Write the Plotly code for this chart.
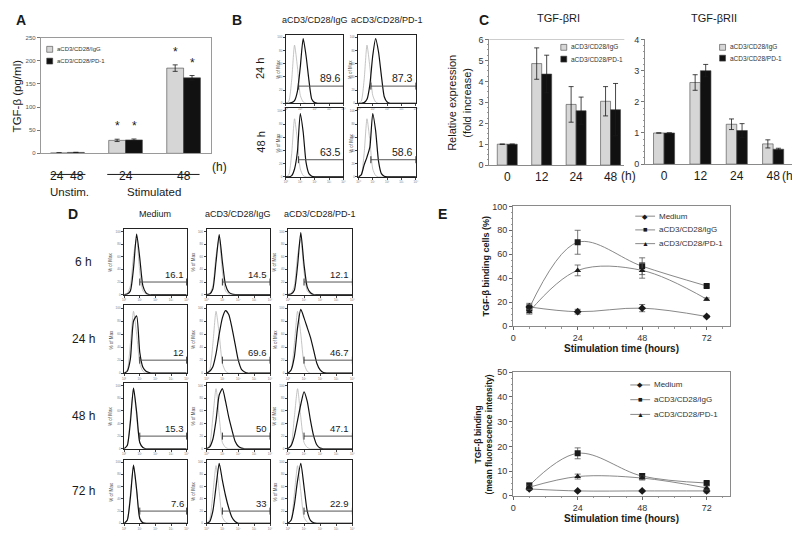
import plotly.graph_objects as go

# page body keeps the browser's default 8px margin, so the figure is sized to
# fill the 800x547 window exactly from that offset
WIN_W, WIN_H, OFF = 800, 547, 8
W, H = WIN_W - OFF, WIN_H - OFF
FONT = "Liberation Sans, Arial, sans-serif"
INK = "#1a1a1a"
LIGHT = "#d6d6d6"
DARK = "#111111"

# ---------------- data ----------------
SERIES = ["aCD3/CD28/IgG", "aCD3/CD28/PD-1"]

# Panel A  (TGF-beta pg/ml)
A_GROUPS = ["Unstim.", "Stim-24", "Stim-48"]
A_IGG = [1, 28, 184]
A_IGG_ERR = [0.3, 2.5, 7]
A_PD1 = [2, 29, 163]
A_PD1_ERR = [0.3, 2, 5]
A_STAR = [False, True, True]
A_YTICKS = [0, 50, 100, 150, 200, 250]
A_UNSTIM_HOURS = ["24", "48"]
A_STIM_HOURS = ["24", "48"]

# Panel B  (flow histograms, x in decades)
HIST_X = [0.0, 0.2, 0.4, 0.6, 0.8, 1.0, 1.2, 1.4, 1.6, 1.8, 2.0,
          2.2, 2.4, 2.6, 2.8, 3.0, 3.2, 3.4, 3.6, 3.8, 4.0]
B_IGG_24 = [0, 0, 1, 4, 18, 55, 98, 72, 35, 6, 1, 0, 0, 0, 0, 0, 0, 0, 0, 0, 0]
B_IGG_48 = [0, 0, 2, 12, 38, 96, 68, 22, 5, 1, 0, 0, 0, 0, 0, 0, 0, 0, 0, 0, 0]
B_PD1_24 = [0, 0, 1, 6, 28, 72, 98, 78, 42, 10, 2, 0, 0, 0, 0, 0, 0, 0, 0, 0, 0]
B_PD1_48 = [0, 3, 18, 30, 45, 96, 70, 24, 5, 1, 0, 0, 0, 0, 0, 0, 0, 0, 0, 0, 0]
B_CTL = [0, 3, 35, 88, 55, 12, 2, 0, 0, 0, 0, 0, 0, 0, 0, 0, 0, 0, 0, 0, 0]
B_ROWS = ["24 h", "48 h"]
B_PCT = [["89.6", "87.3"], ["63.5", "58.6"]]
B_GATE = 0.87

# Panel C  (relative expression, fold increase)
C_CATS = ["0", "12", "24", "48"]
RI_IGG = [1, 4.85, 2.9, 3.05]
RI_IGG_ERR = [0, 0.75, 0.85, 0.7]
RI_PD1 = [1, 4.35, 2.6, 2.65]
RI_PD1_ERR = [0, 0.9, 0.65, 1.25]
RI_STAR = [False, True, True, True]
RII_IGG = [1, 2.62, 1.28, 0.65]
RII_IGG_ERR = [0, 0.25, 0.17, 0.13]
RII_PD1 = [1, 3.0, 1.08, 0.48]
RII_PD1_ERR = [0, 0.2, 0.22, 0.03]
RII_STAR = [False, True, False, False]

# Panel D  (flow histograms)
D_COLS = ["Medium", "aCD3/CD28/IgG", "aCD3/CD28/PD-1"]
D_ROWS = ["6 h", "24 h", "48 h", "72 h"]
D_MED_6 = [0, 1, 6, 42, 96, 58, 14, 3, 0, 0, 0, 0, 0, 0, 0, 0, 0, 0, 0, 0, 0]
D_IGG_6 = [0, 1, 9, 52, 95, 52, 15, 4, 1, 0, 0, 0, 0, 0, 0, 0, 0, 0, 0, 0, 0]
D_PD1_6 = [0, 1, 7, 46, 98, 48, 12, 3, 0, 0, 0, 0, 0, 0, 0, 0, 0, 0, 0, 0, 0]
D_CTL_6 = [0, 2, 14, 62, 88, 36, 6, 1, 0, 0, 0, 0, 0, 0, 0, 0, 0, 0, 0, 0, 0]
D_MED_24 = [0, 3, 22, 80, 88, 32, 9, 3, 1, 0, 0, 0, 0, 0, 0, 0, 0, 0, 0, 0, 0]
D_IGG_24 = [0, 3, 10, 30, 60, 85, 96, 90, 70, 45, 20, 6, 2, 0, 0, 0, 0, 0, 0, 0, 0]
D_PD1_24 = [0, 5, 25, 70, 98, 85, 70, 55, 35, 15, 5, 1, 0, 0, 0, 0, 0, 0, 0, 0, 0]
D_CTL_24 = [0, 5, 45, 95, 60, 15, 3, 0, 0, 0, 0, 0, 0, 0, 0, 0, 0, 0, 0, 0, 0]
D_MED_48 = [0, 5, 42, 96, 58, 10, 2, 0, 0, 0, 0, 0, 0, 0, 0, 0, 0, 0, 0, 0, 0]
D_IGG_48 = [0, 3, 15, 45, 85, 95, 75, 50, 30, 12, 4, 1, 0, 0, 0, 0, 0, 0, 0, 0, 0]
D_PD1_48 = [0, 5, 20, 45, 70, 90, 75, 45, 20, 6, 1, 0, 0, 0, 0, 0, 0, 0, 0, 0, 0]
D_CTL_48 = [0, 6, 50, 95, 50, 10, 2, 0, 0, 0, 0, 0, 0, 0, 0, 0, 0, 0, 0, 0, 0]
D_MED_72 = [0, 5, 42, 95, 55, 8, 1, 0, 0, 0, 0, 0, 0, 0, 0, 0, 0, 0, 0, 0, 0]
D_IGG_72 = [0, 3, 20, 60, 98, 70, 45, 25, 10, 3, 0, 0, 0, 0, 0, 0, 0, 0, 0, 0, 0]
D_PD1_72 = [0, 5, 30, 70, 98, 60, 20, 5, 1, 0, 0, 0, 0, 0, 0, 0, 0, 0, 0, 0, 0]
D_CTL_72 = [0, 6, 48, 94, 52, 10, 2, 0, 0, 0, 0, 0, 0, 0, 0, 0, 0, 0, 0, 0, 0]
D_PCT = [["16.1", "14.5", "12.1"],
         ["12", "69.6", "46.7"],
         ["15.3", "50", "47.1"],
         ["7.6", "33", "22.9"]]
D_GATE = 1.0
HIST_TICKS = [0, 1, 2, 3, 4]
HIST_TICKTEXT = ["10⁰", "10¹", "10²", "10³", "10⁴"]

# Panel E
E_TIME = [6, 24, 48, 72]
E_XTICKS = [0, 24, 48, 72]
E_NAMES = ["Medium", "aCD3/CD28/IgG", "aCD3/CD28/PD-1"]
E_SYMBOLS = ["diamond", "square", "triangle-up"]
E_GLYPHS = ["◆", "■", "▲"]
E1_MED = [16, 12, 15, 8]
E1_MED_ERR = [3, 2, 3, 1]
E1_IGG = [15, 70, 50, 33.5]
E1_IGG_ERR = [3, 10, 7, 1]
E1_PD1 = [12, 46.5, 46.5, 22.5]
E1_PD1_ERR = [2, 4.5, 6.5, 1]
E2_MED = [2.8, 2, 2, 2]
E2_MED_ERR = [0.5, 0.3, 0.3, 0.8]
E2_IGG = [4.2, 17.2, 8, 5.2]
E2_IGG_ERR = [1, 2.2, 1, 0.5]
E2_PD1 = [3.5, 7.8, 7.2, 3.2]
E2_PD1_ERR = [0.8, 1, 0.8, 0.8]

# ---------------- helpers ----------------
traces = []
ann = []
shapes = []
layout = dict(
    width=W, height=H, margin=dict(l=0, r=0, t=0, b=0), autosize=False,
    paper_bgcolor="white", plot_bgcolor="rgba(0,0,0,0)", showlegend=False,
    font=dict(family=FONT, color=INK, size=10),
    bargap=0.42, bargroupgap=0, barmode="group",
)
counter = [0]


def px_x(px):
    return (px - OFF) / W


def px_y(py):
    return 1 - (py - OFF) / H


def new_axes(l, r, t, b, xa, ya):
    counter[0] += 1
    k = counter[0]
    s = "" if k == 1 else str(k)
    xa = dict(xa)
    ya = dict(ya)
    xa.update(domain=[px_x(l), px_x(r)], anchor="y" + s)
    ya.update(domain=[px_y(b), px_y(t)], anchor="x" + s)
    layout["xaxis" + s] = xa
    layout["yaxis" + s] = ya
    return "x" + s, "y" + s


def text(x, y, s, size=10, bold=False, angle=0, xanchor="center", yanchor="middle", color=INK):
    ann.append(dict(x=px_x(x), y=px_y(y), xref="paper", yref="paper", text=("<b>%s</b>" % s) if bold else s,
                    showarrow=False, textangle=angle, xanchor=xanchor, yanchor=yanchor,
                    font=dict(size=size, color=color, family=FONT)))


def hline(x0, x1, y, color=INK, width=1):
    shapes.append(dict(type="line", xref="paper", yref="paper", x0=px_x(x0), x1=px_x(x1),
                       y0=px_y(y), y1=px_y(y), line=dict(color=color, width=width)))


def legend_square(x, y, color, label, size=6.5):
    shapes.append(dict(type="rect", xref="paper", yref="paper", x0=px_x(x), x1=px_x(x + 6),
                       y0=px_y(y + 3), y1=px_y(y - 3), fillcolor=color,
                       line=dict(color="#444", width=0.6)))
    text(x + 8.5, y, label, size=size, xanchor="left", color="#333")


# ---------------- Panel A ----------------
A_L, A_R, A_T, A_B = 38, 210, 33, 151
A_XR = [-0.46, 2.48]
xa, ya = new_axes(A_L, A_R, A_T, A_B,
                  dict(type="category", range=A_XR, showline=True, mirror=True, linecolor="#9a9a9a",
                       linewidth=1, ticks="", showticklabels=False, showgrid=False, zeroline=False),
                  dict(range=[0, 250], tickvals=A_YTICKS, ticks="outside", ticklen=3, tickcolor="#777",
                       tickfont=dict(size=6, color="#555"), showline=True, mirror=True,
                       linecolor="#9a9a9a", linewidth=1, showgrid=False, zeroline=False))
for vals, errs, col in [(A_IGG, A_IGG_ERR, LIGHT), (A_PD1, A_PD1_ERR, DARK)]:
    traces.append(go.Bar(x=A_GROUPS, y=vals, xaxis=xa, yaxis=ya,
                         marker=dict(color=col, line=dict(color="#444", width=0.6)),
                         error_y=dict(type="data", array=errs, color=INK, thickness=0.8, width=2.5)))
a_unit = (A_R - A_L) / (A_XR[1] - A_XR[0])
a_half = (1 - layout["bargap"]) / 4 * a_unit
for i, g in enumerate(A_GROUPS):
    if A_STAR[i]:
        for vals, errs, sgn in [(A_IGG, A_IGG_ERR, -1), (A_PD1, A_PD1_ERR, 1)]:
            ann.append(dict(x=g, y=vals[i] + errs[i], xref=xa, yref=ya, text="*", showarrow=False,
                            xshift=sgn * a_half, yshift=4, yanchor="bottom",
                            font=dict(size=12, color=INK, family=FONT)))
# hour labels under axis
for lab, sgn in zip(A_UNSTIM_HOURS, [-1, 1]):
    ann.append(dict(x=A_GROUPS[0], y=px_y(165), xref=xa, yref="paper", text=lab, showarrow=False,
                    xshift=sgn * (a_half + 1.5), font=dict(size=12, color=INK, family=FONT)))
for lab, g in zip(A_STIM_HOURS, A_GROUPS[1:]):
    ann.append(dict(x=g, y=px_y(165), xref=xa, yref="paper", text=lab, showarrow=False,
                    font=dict(size=12, color=INK, family=FONT)))
text(218, 165, "(h)", 12)
hline(48, 83, 172.5, width=1)
hline(105, 198, 172.5, width=1)
text(67, 190, "Unstim.", 11.5)
text(152, 190, "Stimulated", 11.5)
text(14, 92, "TGF-β (pg/ml)", 11.5, angle=-90)
text(18, 15, "A", 14, bold=True)
legend_square(44, 45, LIGHT, SERIES[0], 6)
legend_square(44, 57, DARK, SERIES[1], 6)


# ---------------- histogram helper ----------------
def histogram(l, r, t, b, black, ctl, gate_start, gate_level, pct, ylab_off, pct_size):
    xr, yr = new_axes(l, r, t, b,
                      dict(range=[0, 4], tickvals=HIST_TICKS, ticktext=HIST_TICKTEXT, ticks="outside",
                           ticklen=2, tickwidth=0.6, tickcolor="#444", tickfont=dict(size=3, color="#777"),
                           showline=True, mirror=True, linecolor="#222", linewidth=0.9,
                           showgrid=False, zeroline=False),
                      dict(range=[0, 104], tickvals=[0, 20, 40, 60, 80, 100], ticks="outside",
                           ticklen=2, tickwidth=0.6, tickcolor="#444", tickfont=dict(size=3, color="#777"),
                           showline=True, mirror=True, linecolor="#222", linewidth=0.9,
                           showgrid=False, zeroline=False))
    traces.append(go.Scatter(x=HIST_X, y=ctl, xaxis=xr, yaxis=yr, mode="lines", hoverinfo="skip",
                             line=dict(color="#b5b5b5", width=0.8, shape="spline", smoothing=0.6)))
    traces.append(go.Scatter(x=HIST_X, y=black, xaxis=xr, yaxis=yr, mode="lines", hoverinfo="skip",
                             line=dict(color="#111", width=1.2, shape="spline", smoothing=0.6)))
    traces.append(go.Scatter(x=[gate_start, HIST_TICKS[-1]], y=[gate_level, gate_level], xaxis=xr, yaxis=yr,
                             mode="lines+markers", hoverinfo="skip", cliponaxis=False,
                             marker=dict(symbol="line-ns", size=5, line=dict(width=1, color="#333")),
                             line=dict(color="#555", width=1)))
    ann.append(dict(x=HIST_TICKS[-1] * 0.985, y=gate_level, xref=xr, yref=yr, text=pct, showarrow=False,
                    xanchor="right", yanchor="bottom", yshift=0,
                    font=dict(size=pct_size, color=INK, family=FONT)))
    text(l - ylab_off, (t + b) / 2, "% of Max", 4.5, angle=-90, color="#444")


# ---------------- Panel B ----------------
B_COLX = [(285, 343), (358, 416)]
B_ROWY = [(30, 100), (105, 175)]
B_DATA = [[B_IGG_24, B_PD1_24], [B_IGG_48, B_PD1_48]]
for ri, (t, b) in enumerate(B_ROWY):
    for ci, (l, r) in enumerate(B_COLX):
        histogram(l, r, t, b, B_DATA[ri][ci], B_CTL, B_GATE, 26, B_PCT[ri][ci], 7, 10.5)
    text(259, (t + b) / 2, B_ROWS[ri], 11, angle=-90)
for ci, (l, r) in enumerate(B_COLX):
    text((l + r) / 2, 15, SERIES[ci], 9)
text(236, 15, "B", 14, bold=True)


# ---------------- Panel C ----------------
def c_chart(l, r, t, b, xr_rng, ymax, minor_dtick, igg, igg_err, pd1, pd1_err, stars, top_border):
    xa_, ya_ = new_axes(l, r, t, b,
                        dict(type="category", range=xr_rng, showline=True, linecolor="#8a8a8a",
                             linewidth=1, ticks="", tickfont=dict(size=12, color=INK), showgrid=False,
                             zeroline=False),
                        dict(range=[0, ymax], dtick=1, ticks="outside", ticklen=3, tickcolor="#777",
                             tickfont=dict(size=9, color="#333"), showline=True, linecolor="#8a8a8a",
                             linewidth=1, showgrid=False, zeroline=False,
                             minor=dict(dtick=minor_dtick, ticks="outside", ticklen=1.5, tickcolor="#999")))
    for vals, errs, col in [(igg, igg_err, LIGHT), (pd1, pd1_err, DARK)]:
        traces.append(go.Bar(x=C_CATS, y=vals, xaxis=xa_, yaxis=ya_,
                             marker=dict(color=col, line=dict(color="#444", width=0.6)),
                             error_y=dict(type="data", array=errs, color=INK, thickness=0.8, width=2.5)))
    unit = (r - l) / (xr_rng[1] - xr_rng[0])
    half = (1 - layout["bargap"]) / 4 * unit
    for i, c in enumerate(C_CATS):
        if stars[i]:
            for vals, errs, sgn in [(igg, igg_err, -1), (pd1, pd1_err, 1)]:
                ann.append(dict(x=c, y=vals[i] + errs[i], xref=xa_, yref=ya_, text="*", showarrow=False,
                                xshift=sgn * half, yshift=2, yanchor="bottom",
                                font=dict(size=12, color=INK, family=FONT)))
    if top_border:
        shapes.append(dict(type="line", xref=xa_ + " domain", yref=ya_, x0=0, x1=1, y0=ymax, y1=ymax,
                           line=dict(color="#9a9a9a", width=1)))
    return xa_, ya_


c_chart(490, 626, 35, 163, [-0.52, 3.4], 6, 0.25, RI_IGG, RI_IGG_ERR, RI_PD1, RI_PD1_ERR, RI_STAR, True)
c_chart(647, 795, 35, 162, [-0.52, 3.52], 4, 0.2, RII_IGG, RII_IGG_ERR, RII_PD1, RII_PD1_ERR, RII_STAR, False)
text(630, 174, "(h)", 12)
text(792, 174, "(h)", 12)
text(560, 13, "TGF-βRI", 11)
text(716, 13, "TGF-βRII", 11)
text(460, 100, "Relative expression<br>(fold increase)", 11, angle=-90)
text(485, 15, "C", 14, bold=True)
legend_square(562, 43, LIGHT, SERIES[0])
legend_square(562, 55, DARK, SERIES[1])
legend_square(722, 43, LIGHT, SERIES[0])
legend_square(722, 54, DARK, SERIES[1])

# ---------------- Panel D ----------------
D_COLX = [(122, 185), (205, 269), (287, 352)]
D_ROWY = [(228, 295), (306, 375), (385, 452), (463, 528)]
D_DATA = [[D_MED_6, D_IGG_6, D_PD1_6],
          [D_MED_24, D_IGG_24, D_PD1_24],
          [D_MED_48, D_IGG_48, D_PD1_48],
          [D_MED_72, D_IGG_72, D_PD1_72]]
D_CTL = [D_CTL_6, D_CTL_24, D_CTL_48, D_CTL_72]
for ri, (t, b) in enumerate(D_ROWY):
    for ci, (l, r) in enumerate(D_COLX):
        histogram(l, r, t, b, D_DATA[ri][ci], D_CTL[ri], D_GATE, 20, D_PCT[ri][ci], 13, 9.5)
    text(81, (t + b) / 2, D_ROWS[ri], 12)
for ci, (l, r) in enumerate(D_COLX):
    text((l + r) / 2, 213, D_COLS[ci], 9)
text(70, 213, "D", 14, bold=True)


# ---------------- Panel E ----------------
def e_chart(t, b, ymax, series, errs, ytitle, legend_y, legend_x):
    xa_, ya_ = new_axes(514, 732, t, b,
                        dict(range=[0, 80.5], tickvals=E_XTICKS, ticks="outside", ticklen=3, tickcolor="#666",
                             tickfont=dict(size=9, color="#333"), showline=True, mirror=True,
                             linecolor="#8a8a8a", linewidth=1, showgrid=False, zeroline=False,
                             minor=dict(dtick=6, ticks="outside", ticklen=1.5, tickcolor="#999")),
                        dict(range=[0, ymax], dtick=ymax / 5, ticks="outside", ticklen=3, tickcolor="#666",
                             tickfont=dict(size=9, color="#333"), showline=True, mirror=True,
                             linecolor="#8a8a8a", linewidth=1, showgrid=False, zeroline=False,
                             minor=dict(dtick=ymax / 20, ticks="outside", ticklen=1.5, tickcolor="#999")))
    for vals, err, sym in zip(series, errs, E_SYMBOLS):
        traces.append(go.Scatter(x=E_TIME, y=vals, xaxis=xa_, yaxis=ya_, mode="lines+markers",
                                 line=dict(color="#7a7a7a", width=0.9, shape="spline", smoothing=1.0),
                                 marker=dict(symbol=sym, size=6, color=INK),
                                 error_y=dict(type="data", array=err, color="#555", thickness=0.8, width=3)))
    text(623, b + 23, "Stimulation time (hours)", 10, bold=True)
    text(ytitle[1], (t + b) / 2, ytitle[0], ytitle[2], bold=True, angle=-90)
    for k, name in enumerate(E_NAMES):
        y = legend_y[k]
        hline(legend_x, legend_x + 20, y, color="#7a7a7a", width=0.9)
        text(legend_x + 10, y, E_GLYPHS[k], 7 if k != 1 else 7.5)
        text(legend_x + 22, y, name, 8, xanchor="left", color="#333")


e_chart(205, 327, 100, [E1_MED, E1_IGG, E1_PD1], [E1_MED_ERR, E1_IGG_ERR, E1_PD1_ERR],
        ("TGF-β binding cells (%)", 487, 9), [215, 229, 243], 637)
e_chart(374, 500, 50, [E2_MED, E2_IGG, E2_PD1], [E2_MED_ERR, E2_IGG_ERR, E2_PD1_ERR],
        ("TGF-β binding<br>(mean fluorescence intensity)", 484, 8.5), [387, 402, 417], 632)
text(443, 213, "E", 14, bold=True)

layout["annotations"] = ann
layout["shapes"] = shapes
fig = go.Figure(data=traces, layout=layout)
fig.write_html("out.html")
